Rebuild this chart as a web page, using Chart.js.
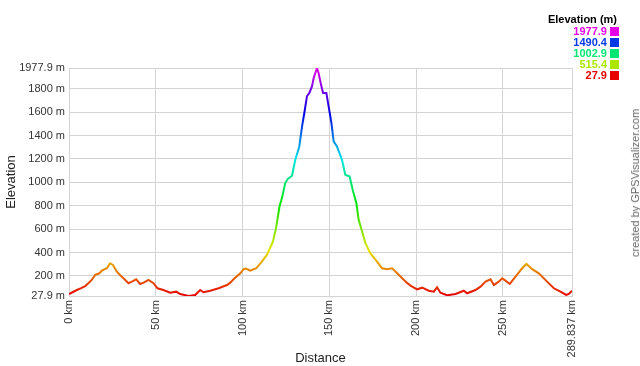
<!DOCTYPE html>
<html>
<head>
<meta charset="utf-8">
<script src="https://cdn.jsdelivr.net/npm/chart.js@4"></script>
<style>
html,body{margin:0;padding:0;background:#fff;}
#wrap{position:relative;width:640px;height:366px;overflow:hidden;font-family:"Liberation Sans",Arial,sans-serif;}
canvas{position:absolute;left:0;top:0;}
.lg{position:absolute;font-weight:bold;font-size:11px;line-height:11px;white-space:nowrap;text-align:right;}
.sq{position:absolute;width:9px;height:9px;}
#credit{position:absolute;left:635px;top:183px;transform:translate(-50%,-50%) rotate(-90deg);font-size:11px;color:#666;white-space:nowrap;}
</style>
</head>
<body>
<div id="wrap">
<canvas id="c" width="640" height="366"></canvas>
<div id="legend"></div>
<div id="credit">created by GPSVisualizer.com</div>
</div>
<script>
// Data
const distanceKm = [0,2,4.5,7,9.3,11,13.1,15.1,17.5,18.9,21.8,23.7,25.3,27.6,29.5,31.4,34.3,36.2,38.7,41,43.3,45.8,48.7,51,54.4,58.3,61.8,64.1,68.9,72.7,75.6,77.5,81.4,86.2,91,92.9,94.8,98.7,100.6,102,104.4,107.9,111,114,117.5,119.3,121.3,122.7,124.6,126,128.5,130.4,132.7,134.3,135.6,137.1,138.5,140,141,142.9,143.8,145.2,146.4,148.3,149.6,151.2,152.5,154.4,157.3,159.2,161.7,163.7,165.6,166.9,168.9,170.8,173.6,177.5,180.4,183.3,186.2,190,192,194.8,197,200.6,203.5,207.3,210.2,212.1,214,217.9,222.7,227.5,229.4,234.2,237.1,240,242.9,244.8,247.6,249.6,251.5,254,257.3,261.1,263.6,264.9,266.9,270.7,275.5,279.4,283.2,286.5,288,289.837];
const elevationM = [45,60,79,95,113,135,165,208,222,245,265,308,294,236,205,180,137,151,171,131,145,165,137,94,79,56,65,45,28,36,79,60,73,94,122,142,171,222,257,262,245,265,320,379,493,608,793,865,994,1028,1056,1193,1307,1479,1593,1736,1765,1821,1893,1977.9,1936,1836,1765,1765,1650,1508,1350,1307,1193,1065,1050,922,822,679,579,479,394,322,265,257,265,210,180,140,115,85,99,73,65,102,56,34,45,73,51,79,108,151,171,122,151,180,159,131,193,265,302,285,257,222,151,94,65,37,45,73];
const xTickValues = [0,50,100,150,200,250,289.837];
const yTickValues = [27.9,200,400,600,800,1000,1200,1400,1600,1800,1977.9];
const legendValues = [1977.9,1490.4,1002.9,515.4,27.9];

const yMin = 27.9, yMax = 1977.9;
function hueFor(v){ return 300*(v-yMin)/(yMax-yMin); }
function colFor(v){ return 'hsl('+hueFor(v).toFixed(1)+',100%,45%)'; }

// Legend (HTML text)
const lg = document.getElementById('legend');
const title = document.createElement('div');
title.className='lg'; title.textContent='Elevation (m)';
title.style.right=(640-617)+'px'; title.style.top='14px'; title.style.color='#000';
lg.appendChild(title);
legendValues.forEach((v,i)=>{
  const t=document.createElement('div');
  t.className='lg'; t.textContent=v.toFixed(1);
  t.style.right=(640-607)+'px'; t.style.top=(26+i*11)+'px'; t.style.color=colFor(v);
  lg.appendChild(t);
  const s=document.createElement('div');
  s.className='sq'; s.style.left='610px'; s.style.top=(27+i*11)+'px'; s.style.background=colFor(v);
  lg.appendChild(s);
});

const points = distanceKm.map((d,i)=>({x:d,y:elevationM[i]}));
const gridColor = '#d4d4d4';
const fontFam = '"Liberation Sans", Arial, sans-serif';

new Chart(document.getElementById('c'), {
  type:'line',
  data:{datasets:[{
    data:points,
    borderWidth:2,
    pointRadius:0,
    tension:0,
    fill:false,
    borderColor:function(ctx){
      const chart=ctx.chart; const ca=chart.chartArea;
      if(!ca) return '#f00';
      const ys=chart.scales.y;
      const y0=ys.getPixelForValue(yMin), y1=ys.getPixelForValue(yMax);
      const g=chart.ctx.createLinearGradient(0,y0,0,y1);
      for(let i=0;i<=20;i++){ const t=i/20; g.addColorStop(t,'hsl('+(300*t).toFixed(1)+',100%,45%)'); }
      return g;
    }
  }]},
  options:{
    responsive:false,
    animation:false,
    devicePixelRatio:1,
    layout:{padding:{top:68,right:68,left:0,bottom:0}},
    plugins:{legend:{display:false},tooltip:{enabled:false}},
    scales:{
      x:{
        type:'linear', min:0, max:289.837,
        afterBuildTicks:s=>{s.ticks=xTickValues.map(v=>({value:v}));},
        afterFit:s=>{s.height=70;},
        ticks:{autoSkip:false,minRotation:90,maxRotation:90,padding:4,color:'#333',font:{family:fontFam,size:11},callback:v=>v+' km'},
        grid:{color:gridColor,drawTicks:false,lineWidth:1},
        border:{color:gridColor},
        title:{display:true,text:'Distance',color:'#222',font:{family:fontFam,size:13},padding:{top:0,bottom:0}}
      },
      y:{
        type:'linear', min:yMin, max:yMax,
        afterBuildTicks:s=>{s.ticks=yTickValues.map(v=>({value:v}));},
        afterFit:s=>{s.width=69;},
        ticks:{autoSkip:false,padding:4,color:'#333',font:{family:fontFam,size:11},callback:v=>v+' m'},
        grid:{color:gridColor,drawTicks:false,lineWidth:1},
        border:{color:gridColor},
        title:{display:true,text:'Elevation',color:'#222',font:{family:fontFam,size:13},padding:{top:4,bottom:0}}
      }
    }
  }
});
</script>
</body>
</html>
